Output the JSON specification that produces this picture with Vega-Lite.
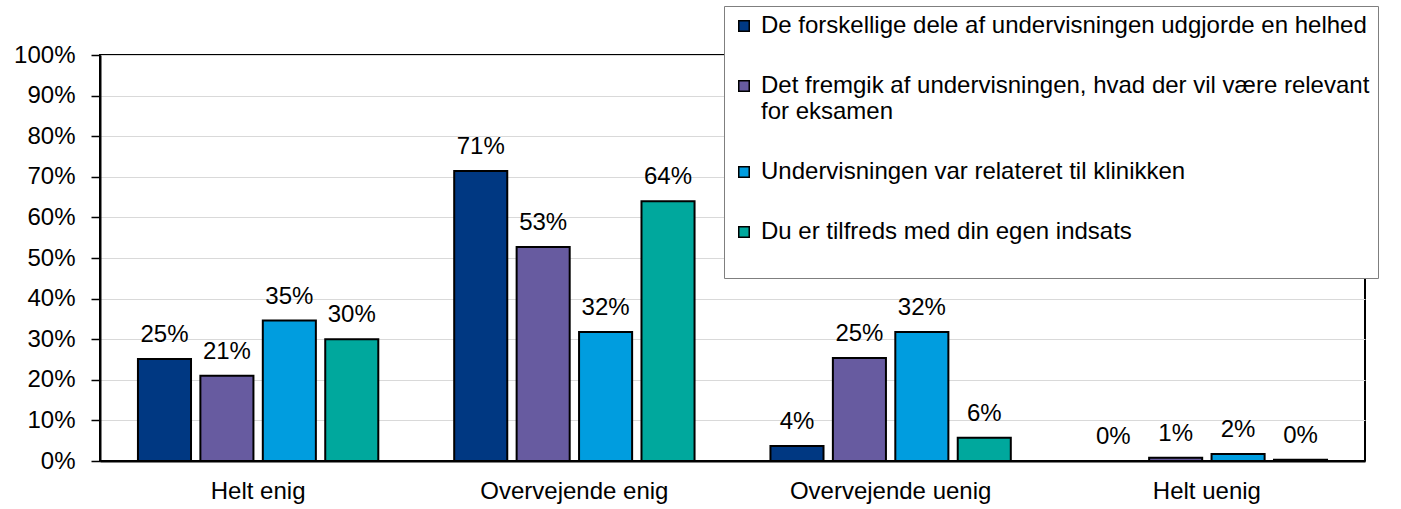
{
  "$schema": "https://vega.github.io/schema/vega-lite/v6.json",
  "width": 1265,
  "height": 406,
  "autosize": {"type": "none"},
  "padding": {"left": 100, "top": 55, "right": 36, "bottom": 48},
  "background": "white",
  "config": {
    "font": "Liberation Sans",
    "view": {"stroke": "black", "strokeWidth": 2}
  },
  "data": {
    "values": [
      {"cat": "Helt enig", "series": "De forskellige dele af undervisningen udgjorde en helhed", "value": 0.251},
      {"cat": "Helt enig", "series": "Det fremgik af undervisningen, hvad der vil være relevant for eksamen", "value": 0.21},
      {"cat": "Helt enig", "series": "Undervisningen var relateret til klinikken", "value": 0.346},
      {"cat": "Helt enig", "series": "Du er tilfreds med din egen indsats", "value": 0.30},
      {"cat": "Overvejende enig", "series": "De forskellige dele af undervisningen udgjorde en helhed", "value": 0.714},
      {"cat": "Overvejende enig", "series": "Det fremgik af undervisningen, hvad der vil være relevant for eksamen", "value": 0.527},
      {"cat": "Overvejende enig", "series": "Undervisningen var relateret til klinikken", "value": 0.318},
      {"cat": "Overvejende enig", "series": "Du er tilfreds med din egen indsats", "value": 0.64},
      {"cat": "Overvejende uenig", "series": "De forskellige dele af undervisningen udgjorde en helhed", "value": 0.037},
      {"cat": "Overvejende uenig", "series": "Det fremgik af undervisningen, hvad der vil være relevant for eksamen", "value": 0.254},
      {"cat": "Overvejende uenig", "series": "Undervisningen var relateret til klinikken", "value": 0.318},
      {"cat": "Overvejende uenig", "series": "Du er tilfreds med din egen indsats", "value": 0.057},
      {"cat": "Helt uenig", "series": "De forskellige dele af undervisningen udgjorde en helhed", "value": 0.0},
      {"cat": "Helt uenig", "series": "Det fremgik af undervisningen, hvad der vil være relevant for eksamen", "value": 0.008},
      {"cat": "Helt uenig", "series": "Undervisningen var relateret til klinikken", "value": 0.017},
      {"cat": "Helt uenig", "series": "Du er tilfreds med din egen indsats", "value": 0.003}
    ]
  },
  "encoding": {
    "x": {
      "field": "cat", "type": "nominal", "sort": null,
      "scale": {"paddingInner": 0.24, "paddingOuter": 0.12},
      "axis": {"title": null, "labelAngle": 0, "labelFontSize": 24, "labelColor": "black", "labelLimit": 0, "ticks": false, "labelPadding": 18, "domainColor": "black", "domainWidth": 2}
    },
    "xOffset": {
      "field": "series", "type": "nominal", "sort": null,
      "scale": {"paddingInner": 0.15, "paddingOuter": 0}
    },
    "y": {
      "field": "value", "type": "quantitative",
      "scale": {"domain": [0, 1]},
      "axis": {"title": null, "format": ".0%", "tickCount": 10, "labelFontSize": 24, "labelColor": "black", "tickColor": "black", "tickSize": 9, "tickWidth": 1.5, "labelPadding": 16, "domainColor": "black", "domainWidth": 2, "gridColor": "#d9d9d9", "gridWidth": 1}
    }
  },
  "layer": [
    {
      "mark": {"type": "bar", "stroke": "black", "strokeWidth": 2},
      "encoding": {
        "color": {
          "field": "series", "type": "nominal", "sort": null,
          "scale": {"range": ["#003882", "#675BA0", "#009DDF", "#00A89D"]},
          "legend": {
            "title": null,
            "orient": "none",
            "legendX": 624,
            "legendY": -49,
            "symbolType": "square",
            "symbolSize": 110,
            "symbolStrokeColor": "black",
            "symbolStrokeWidth": 1.5,
            "labelFontSize": 24,
            "labelColor": "black",
            "labelLimit": 800,
            "labelOffset": 5,
            "rowPadding": 36,
            "padding": 8,
            "fillColor": "white",
            "strokeColor": "#7f7f7f",
            "labelExpr": "datum.label == 'Det fremgik af undervisningen, hvad der vil være relevant for eksamen' ? ['Det fremgik af undervisningen, hvad der vil være relevant', 'for eksamen'] : datum.label == 'Du er tilfreds med din egen indsats' ? ['Du er tilfreds med din egen indsats', ' '] : datum.label"
          }
        }
      }
    },
    {
      "mark": {"type": "text", "baseline": "alphabetic", "dy": -17, "fontSize": 24, "color": "black"},
      "encoding": {
        "text": {"field": "value", "type": "quantitative", "format": ".0%"}
      }
    }
  ]
}
